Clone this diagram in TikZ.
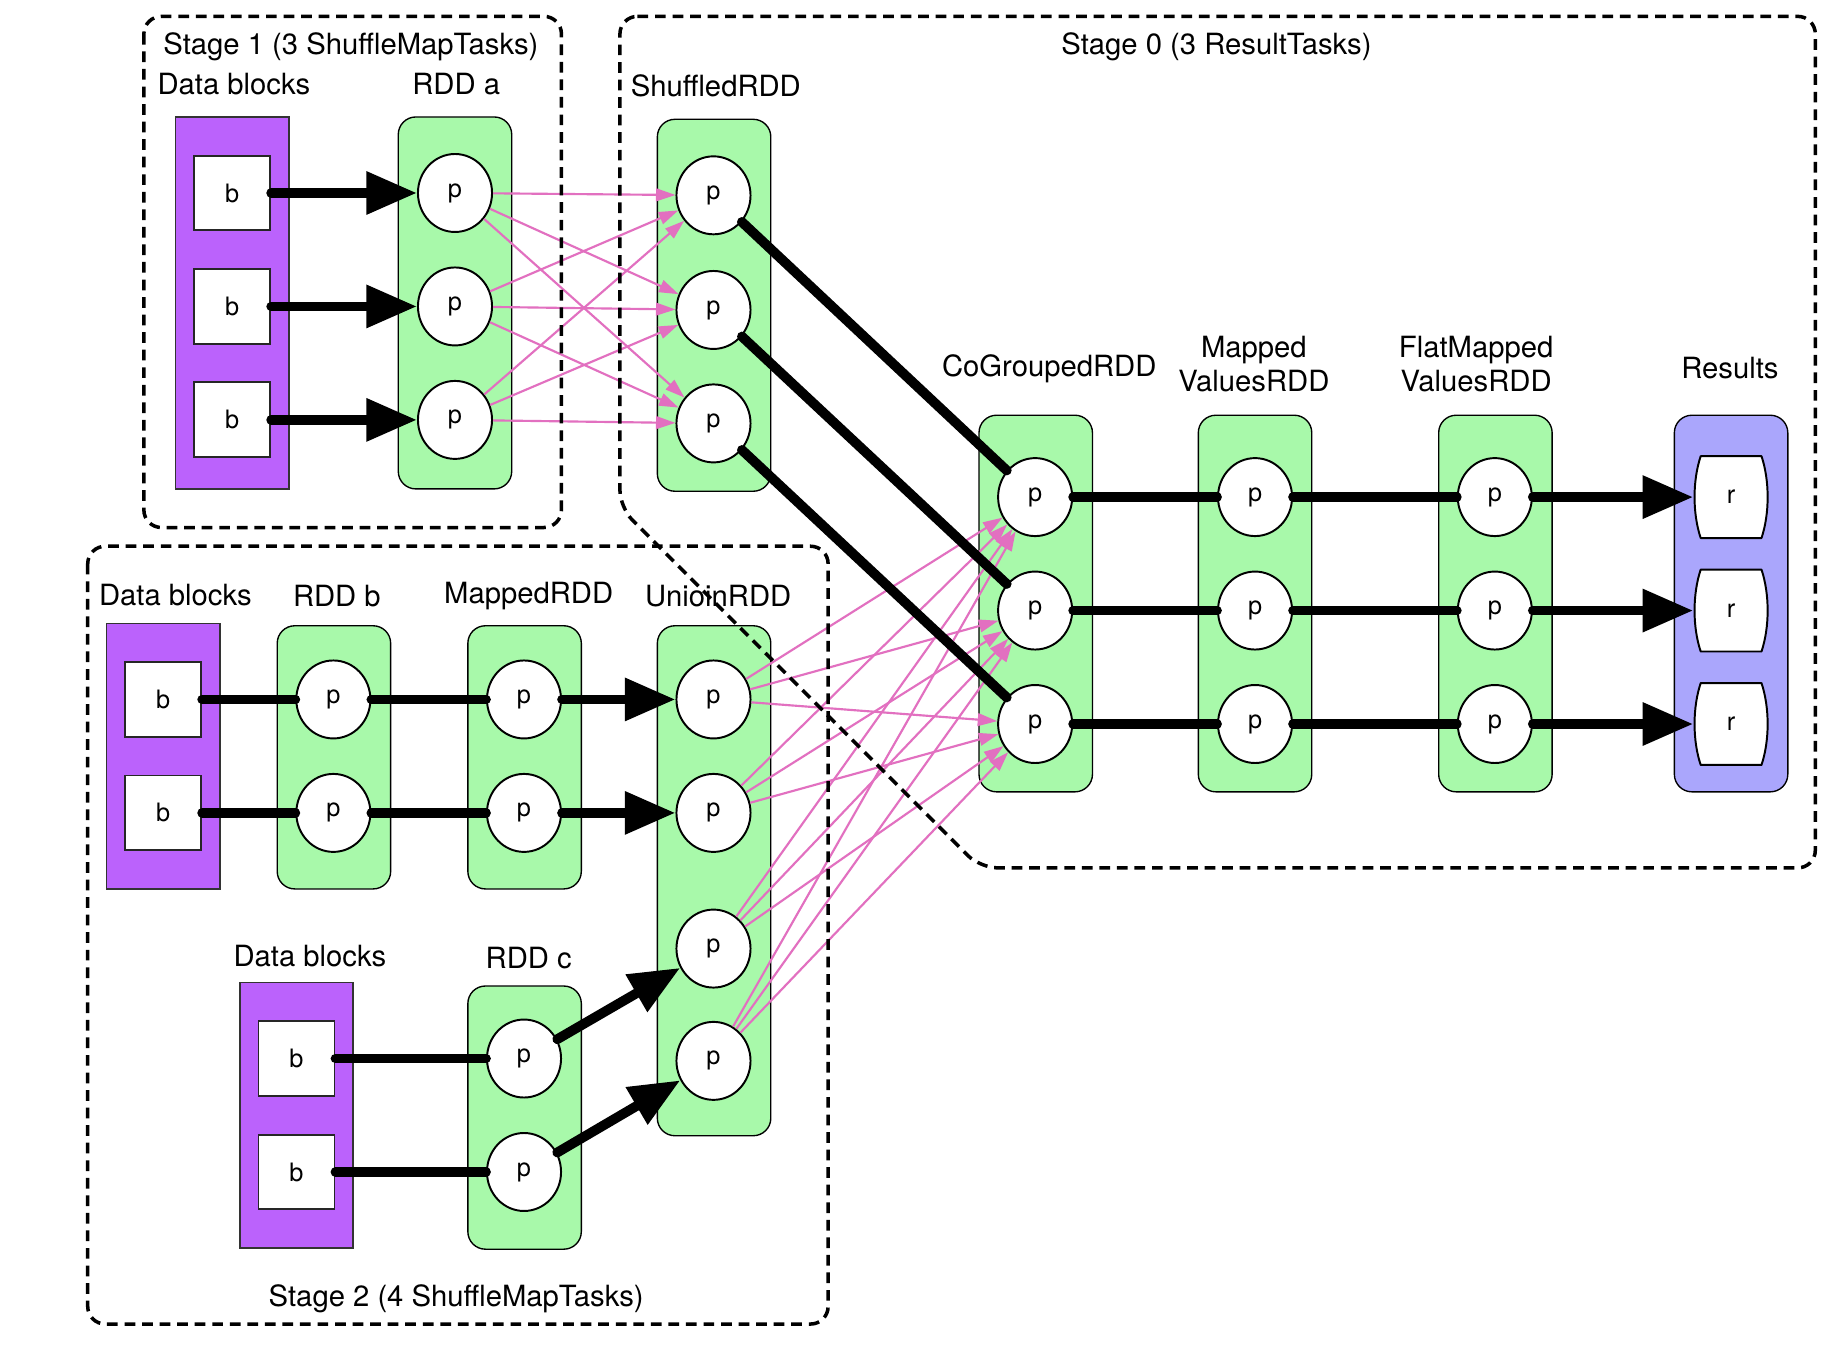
\documentclass[tikz,border=0pt]{standalone}
\usepackage{fontspec}
\setmainfont{TeX Gyre Heros}
\usetikzlibrary{arrows.meta,shapes.geometric,calc}

\definecolor{blockpurple}{RGB}{187,98,252}
\definecolor{rddgreen}{RGB}{168,249,170}
\definecolor{resultblue}{RGB}{170,166,252}
\definecolor{shufflepink}{RGB}{226,112,192}

\tikzset{
  lbl/.style={font=\fontsize{15}{17.4}\selectfont, inner sep=0pt, align=center},
  blockcol/.style={draw=black!80, line width=0.8pt, fill=blockpurple, minimum width=58.2pt, inner sep=0pt},
  rddcol/.style={draw=black, line width=0.7pt, fill=rddgreen, rounded corners=9pt, minimum width=58.2pt, inner sep=0pt},
  rescol/.style={rddcol, fill=resultblue},
  blk/.style={draw=black!85, line width=1pt, fill=white, minimum width=39pt, minimum height=38.4pt,
    inner sep=0pt, font=\fontsize{13}{15}\selectfont},
  part/.style={ellipse, draw=black, line width=1pt, fill=white, minimum width=38pt, minimum height=40pt,
    inner sep=0pt, font=\fontsize{13}{15}\selectfont},
  res/.style={minimum width=38.4pt, minimum height=42pt, inner sep=0pt, font=\fontsize{13}{15}\selectfont},
  barrel/.style={draw=black, line width=1pt, fill=white, line join=round},
  narrowdep/.style={line width=5pt, line cap=round},
  narrowarrow/.style={narrowdep, -{Triangle[length=26pt,width=21pt]}},
  shuffledep/.style={draw=shufflepink, line width=1.1pt, -{Triangle[length=10pt,width=6.5pt]}, shufflepink},
  stagebox/.style={line width=1.8pt, dash pattern=on 5.5pt off 3.5pt, rounded corners=9pt},
}

% a result partition: barrel outline with the label node on top
\newcommand\resultcell[2]{%
  \coordinate (#1-c) at #2;
  \draw[barrel] ($(#1-c)+(-26,-35)$) -- ($(#1-c)+(26,-35)$)
    .. controls ($(#1-c)+(33,-14)$) and ($(#1-c)+(33,14)$) .. ($(#1-c)+(26,35)$)
    -- ($(#1-c)+(-26,35)$)
    .. controls ($(#1-c)+(-33,14)$) and ($(#1-c)+(-33,-14)$) .. cycle;
  \node[res] (#1) at (#1-c) {r};
}

\begin{document}
\begin{tikzpicture}[x=0.6pt,y=-0.6pt]
\fill[white] (0,0) rectangle (1568,1152);
\useasboundingbox (0,0) rectangle (1568,1152);

% ---------- columns (data blocks and RDDs)
\node[blockcol, minimum height=190.8pt] (blkA) at (198.5,259) {};
\node[rddcol, minimum height=190.8pt] (rddA) at (389,259) {};
\node[rddcol, minimum height=190.8pt] (shuf) at (610.5,261) {};

\node[blockcol, minimum height=136.2pt] (blkB) at (139.5,646.5) {};
\node[rddcol, minimum height=135pt] (rddB) at (285.5,647.5) {};
\node[rddcol, minimum height=135pt] (mapB) at (448.5,647.5) {};
\node[rddcol, minimum height=261.6pt] (union) at (610.5,753) {};
\node[blockcol, minimum height=136.2pt] (blkC) at (253.5,953.5) {};
\node[rddcol, minimum height=135pt] (rddC) at (448.5,955.5) {};

\node[rddcol, minimum height=193.2pt] (cogroup) at (885.5,516) {};
\node[rddcol, minimum height=193.2pt] (mapval) at (1073,516) {};
\node[rddcol, minimum height=193.2pt] (flatval) at (1278.5,516) {};
\node[rescol, minimum height=193.2pt] (results) at (1480,516) {};

% ---------- blocks and partitions
\foreach \i/\y in {1/165,2/262,3/359} {
  \node[blk] (a-b\i) at (198.5,\y) {b};
  \node[part] (a-p\i) at (389,\y) {p};
}
\foreach \i/\y in {1/167,2/265,3/362}
  \node[part] (s-p\i) at (610,\y) {p};

\foreach \i/\y in {1/598,2/695} {
  \node[blk] (b-b\i) at (139.5,\y) {b};
  \node[part] (b-p\i) at (285,\y) {p};
  \node[part] (m-p\i) at (448,\y) {p};
}
\foreach \i/\y in {1/905,2/1002} {
  \node[blk] (c-b\i) at (253.5,\y) {b};
  \node[part] (c-p\i) at (448,\y) {p};
}
\foreach \i/\y in {1/598,2/695,3/811,4/907}
  \node[part] (u-p\i) at (610,\y) {p};

\foreach \i/\y in {1/425,2/522,3/619} {
  \node[part] (cg-p\i) at (885,\y) {p};
  \node[part] (mv-p\i) at (1073,\y) {p};
  \node[part] (fm-p\i) at (1278,\y) {p};
  \resultcell{r\i}{(1480,\y)}
}

% ---------- labels
\node[lbl] (t-s1) at (300,40) {Stage 1 (3 ShuffleMapTasks)};
\node[lbl] (t-dbA) at (200,72) {Data blocks};
\node[lbl] (t-rddA) at (390,72) {RDD a};
\node[lbl] (t-shuf) at (612,73) {ShuffledRDD};
\node[lbl] (t-s0) at (1040,40) {Stage 0 (3 ResultTasks)};
\node[lbl] (t-cg) at (897,315) {CoGroupedRDD};
\node[lbl] (t-mv) at (1072,311) {Mapped\\ValuesRDD};
\node[lbl] (t-fm) at (1262,311) {FlatMapped\\ValuesRDD};
\node[lbl] (t-res) at (1479,315) {Results};
\node[lbl] (t-dbB) at (150,509) {Data blocks};
\node[lbl] (t-rddB) at (288,510) {RDD b};
\node[lbl] (t-map) at (452,510) {MappedRDD};
\node[lbl] (t-union) at (614,510) {UnioinRDD};
\node[lbl] (t-dbC) at (265,817) {Data blocks};
\node[lbl] (t-rddC) at (452,819) {RDD c};
\node[lbl] (t-s2) at (390,1110) {Stage 2 (4 ShuffleMapTasks)};

% ---------- shuffle (wide) dependencies
\foreach \i in {1,2,3}
  \foreach \j in {1,2,3}
    \draw[shuffledep] (a-p\i) -- (s-p\j);
\foreach \i in {1,...,4}
  \foreach \j in {1,2,3}
    \draw[shuffledep] (u-p\i) -- (cg-p\j);

% ---------- narrow dependencies
\foreach \i in {1,2,3} {
  \draw[narrowarrow] (a-b\i.east) -- (a-p\i);
  \draw[narrowdep] (s-p\i) -- (cg-p\i);
  \draw[narrowdep] (cg-p\i) -- (mv-p\i);
  \draw[narrowdep] (mv-p\i) -- (fm-p\i);
  \draw[narrowarrow] (fm-p\i) -- (r\i);
}
\foreach \i in {1,2} {
  \draw[narrowdep] (b-b\i.east) -- (b-p\i);
  \draw[narrowdep] (b-p\i) -- (m-p\i);
  \draw[narrowarrow] (m-p\i) -- (u-p\i);
  \draw[narrowdep] (c-b\i.east) -- (c-p\i);
}
\draw[narrowarrow] (c-p1) -- (u-p3);
\draw[narrowarrow] (c-p2) -- (u-p4);

% ---------- stage boundaries
\draw[stagebox] (123,14) rectangle (480,451);
\draw[stagebox] (75,467) rectangle (708,1132);
\draw[stagebox] (530,14) -- (1552,14) -- (1552,742) -- (838,742) -- (530,434) -- cycle;
\end{tikzpicture}
\end{document}
